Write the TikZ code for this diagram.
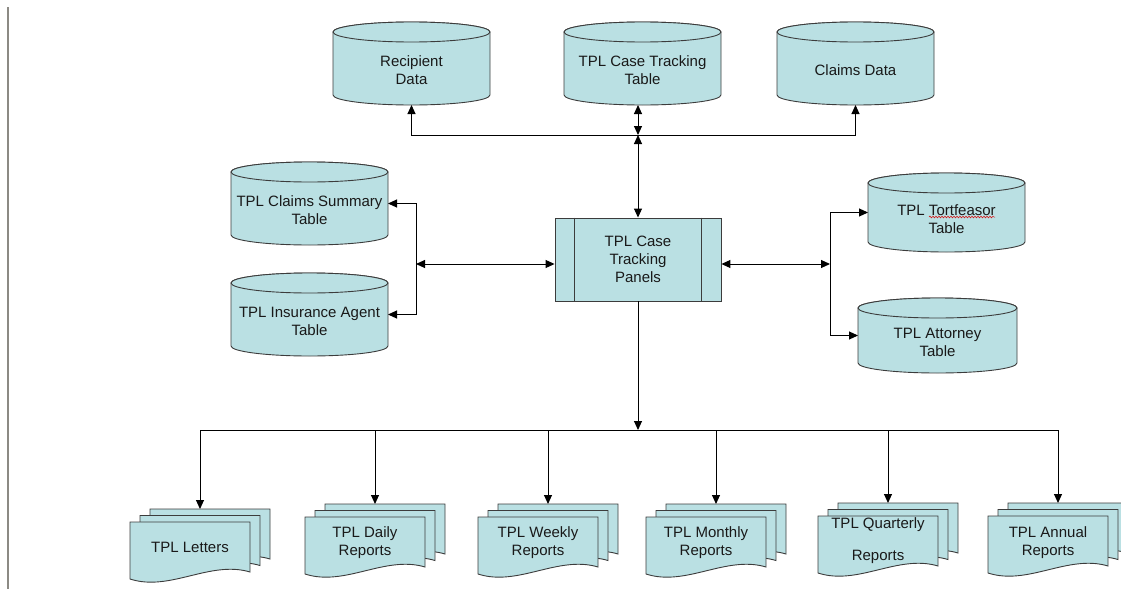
\documentclass[tikz,border=0pt]{standalone}
\usepackage{fontspec}
\setmainfont{Liberation Sans}
\usetikzlibrary{arrows.meta,decorations.pathmorphing}
\definecolor{shapefill}{RGB}{186,224,227}
\definecolor{shapeline}{RGB}{60,60,60}
\definecolor{txtcol}{RGB}{25,25,25}
\definecolor{edgegray}{RGB}{140,138,132}

\tikzset{
  shp/.style={fill=shapefill, draw=shapeline, line width=0.9pt},
  lbl/.style={font=\fontsize{15}{18}\selectfont, text=txtcol, align=center, inner sep=0pt},
  box/.style={inner sep=0pt, outer sep=0pt},
  link/.style={draw=black, line width=1pt},
  tip/.tip={Triangle[length=9pt,width=8pt]},
}

% database cylinder: name, left x, top y, width, height, text
\newcommand\dbcyl[6]{%
  \filldraw[shp] (#2,{#3+10}) -- (#2,{#3+#5-10})
    arc[start angle=180, end angle=0, x radius={#4/2}, y radius=10]
    -- ({#2+#4},{#3+10})
    arc[start angle=0, end angle=-180, x radius={#4/2}, y radius=10] -- cycle;
  \draw[shp] ({#2+#4/2},{#3+10}) ellipse[x radius={#4/2}, y radius=10];
  \node[box, minimum width={#4pt}, minimum height={#5pt}] (#1) at ({#2+#4/2},{#3+#5/2}) {};
  \node[lbl] (#1-t) at ({#2+#4/2},{#3+#5/2+7}) {#6};
}

% one document page with a wavy lower edge
\newcommand\docpage[2]{%
  \filldraw[shp] (#1,#2) -- ({#1+120},#2) -- ({#1+120},{#2+50})
    .. controls ({#1+80},{#2+38}) and ({#1+40},{#2+70}) .. (#1,{#2+57}) -- cycle;
}

% stack of three pages: name, left x of front page, top y of front page, text y, text
\newcommand\docstack[5]{%
  \docpage{#2+20}{#3-13}
  \docpage{#2+10}{#3-6.5}
  \docpage{#2}{#3}
  \node[box, minimum width=140pt, minimum height=70pt, anchor=north west] (#1) at (#2,{#3-13}) {};
  \node[lbl] (#1-t) at ({#2+60},#4) {#5};
}

\begin{document}
\begin{tikzpicture}[x=1pt, y=-1pt]
\useasboundingbox (0,0) rectangle (1121,589);
\clip (0,0) rectangle (1121,589);

% page edge on the left
\draw[edgegray, line width=2pt] (8,7) -- (8,589);

% data stores
\dbcyl{rec}{333}{22}{157}{83}{Recipient\\Data}
\dbcyl{ctt}{564}{22}{157}{83}{TPL Case Tracking\\Table}
\dbcyl{clm}{777}{22}{157}{83}{Claims Data}
\dbcyl{cs}{231}{162}{157}{83}{TPL Claims Summary\\Table}
\dbcyl{ia}{231}{273}{157}{83}{TPL Insurance Agent\\Table}
\dbcyl{tort}{868}{173}{157}{79}{TPL Tortfeasor\\Table}
\dbcyl{att}{858}{298}{159}{75}{TPL Attorney\\Table}
\draw[red!85!black, line width=0.5pt, decorate,
      decoration={snake, amplitude=0.9pt, segment length=3pt}] (929,217) -- (995,217);

% central process
\node[shp, minimum width=166pt, minimum height=83pt, inner sep=0pt] (panel) at (638,259.5) {};
\draw[shapeline, line width=0.9pt] ([xshift=20pt]panel.north west) -- ([xshift=20pt]panel.south west);
\draw[shapeline, line width=0.9pt] ([xshift=-20pt]panel.north east) -- ([xshift=-20pt]panel.south east);
\node[lbl] (panel-t) at (panel) {TPL Case\\Tracking\\Panels};

% reports
\docstack{let}{130}{522}{547}{TPL Letters}
\docstack{day}{305}{517}{542.5}{TPL Daily\\Reports}
\docstack{week}{478}{517}{542.5}{TPL Weekly\\Reports}
\docstack{mon}{646}{517}{542.5}{TPL Monthly\\Reports}
\docstack{qtr}{818}{516}{541}{TPL Quarterly\\[14pt]Reports}
\docstack{ann}{988}{516}{542.5}{TPL Annual\\Reports}

% connectors
\coordinate (tbus) at (638,135);
\coordinate (lbus) at (416,264);
\coordinate (rbus) at (830,264);
\coordinate (dbus) at (638,430);

\draw[link, {tip}-{tip}] (rec.south) -- (rec.south |- tbus) -- (clm.south |- tbus) -- (clm.south);
\draw[link, {tip}-{tip}] (tbus |- ctt.south) -- (tbus);
\draw[link, {tip}-{tip}] (tbus) -- (panel.north);

\draw[link, {tip}-{tip}] (cs.east) -- (cs.east -| lbus) -- (ia.east -| lbus) -- (ia.east);
\draw[link, {tip}-{tip}] (lbus) -- (panel.west |- lbus);

\draw[link, {tip}-{tip}] (tort.west) -- (tort.west -| rbus) -- (att.west -| rbus) -- (att.west);
\draw[link, {tip}-{tip}] (panel.east |- rbus) -- (rbus);

\draw[link, -{tip}] (panel.south) -- (dbus);
\draw[link] (let.north |- dbus) -- (ann.north |- dbus);
\foreach \d in {let,day,week,mon,qtr,ann}
  \draw[link, -{tip}] (\d.north |- dbus) -- (\d.north);
\end{tikzpicture}
\end{document}
